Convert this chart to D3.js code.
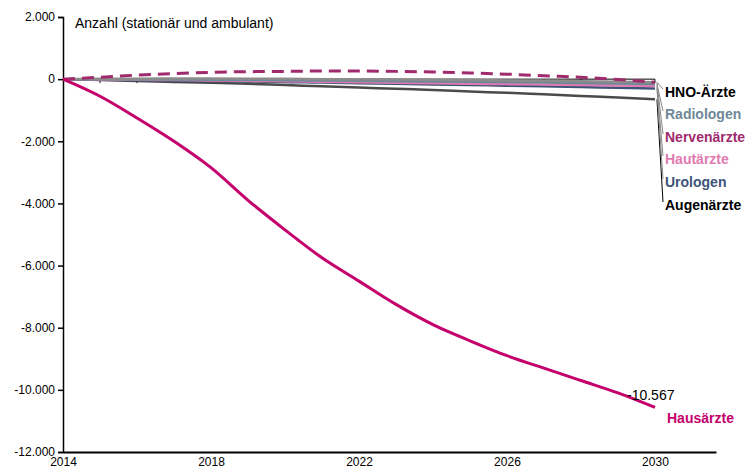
<!DOCTYPE html>
<html>
<head>
<meta charset="utf-8">
<script src="https://cdn.jsdelivr.net/npm/d3@7"></script>
<style>
  body { margin: 0; background: #fff; }
  #graf { width: 745px; height: 470px; }
  text { font-family: 'Liberation Sans', Arial, sans-serif; }
</style>
</head>
<body>
<div id="graf"></div>
<script>
// I. Datos
jahre = d3.range(2014, 2031)
yTicks = [2000, 0, -2000, -4000, -6000, -8000, -10000, -12000]
xLabels = [2014, 2018, 2022, 2026, 2030]

hausaerzte  = [0, -550, -1250, -2000, -2850, -3900, -4850, -5750, -6500, -7250, -7900, -8420, -8900, -9300, -9700, -10100, -10567]
nerven      = [0, 60, 130, 180, 220, 240, 250, 260, 260, 250, 230, 200, 160, 110, 60, -10, -100]
hno         = [0, 10, 15, 20, 20, 15, 10, 0, -5, -10, -20, -30, -40, -55, -70, -85, -100]
radiologen  = [0, -5, -10, -15, -20, -25, -35, -45, -55, -65, -75, -85, -95, -110, -125, -140, -160]
hautaerzte  = [0, -10, -20, -30, -40, -55, -70, -85, -100, -115, -130, -145, -160, -175, -190, -205, -220]
urologen    = [0, -15, -30, -45, -60, -75, -95, -110, -130, -150, -170, -190, -210, -230, -255, -275, -300]
augenaerzte = [0, -30, -60, -90, -120, -150, -190, -230, -270, -310, -350, -400, -440, -490, -540, -590, -650]

serien = [
  { name: 'Augenärzte', werte: augenaerzte, farbe: '#4a4a4a', breite: 2.5, dash: null, labelY: 210, labelFarbe: '#000' },
  { name: 'Urologen', werte: urologen, farbe: '#3c5479', breite: 2.5, dash: null, labelY: 187, labelFarbe: '#3c5479' },
  { name: 'Hautärzte', werte: hautaerzte, farbe: '#e07ab0', breite: 2.5, dash: null, labelY: 164, labelFarbe: '#e07ab0' },
  { name: 'Radiologen', werte: radiologen, farbe: '#6f8898', breite: 2.5, dash: null, labelY: 119, labelFarbe: '#6f8898' },
  { name: 'HNO-Ärzte', werte: hno, farbe: '#8c8c8c', breite: 2.5, dash: null, labelY: 97, labelFarbe: '#000' },
  { name: 'Nervenärzte', werte: nerven, farbe: '#a02a6e', breite: 3, dash: '12,7', labelY: 142, labelFarbe: '#a02a6e' },
  { name: 'Hausärzte', werte: hausaerzte, farbe: '#c4006c', breite: 3, dash: null, labelY: null, labelFarbe: '#c4006c' }
]

// II. Configuración
svg = d3.select('#graf').append('svg')
        .attr('width', 745)
        .attr('height', 470)

x = d3.scaleLinear().domain([2014, 2031.65]).range([63, 716])
y = d3.scaleLinear().domain([-12000, 2000]).range([452, 17])

fmt = d => d3.format(',')(d).replace(/,/g, '.').replace('−', '-')

// eje Y
yAxis = d3.axisLeft(y).tickValues(yTicks).tickSize(5).tickFormat(fmt)
gy = svg.append('g')
   .attr('transform', `translate(${x(2014)},0)`)
   .call(yAxis)
gy.select('.domain').attr('stroke', '#000').attr('stroke-width', 1.5)
gy.selectAll('.tick line').attr('stroke', '#000').attr('stroke-width', 1.5)
gy.selectAll('text').attr('font-size', '12px').attr('fill', '#000')
   .style('font-family', "'Liberation Sans', Arial, sans-serif")

// linea de 0 con marcas por año
svg.append('line')
   .attr('x1', x(2014)).attr('x2', x(2030))
   .attr('y1', y(0)).attr('y2', y(0))
   .attr('stroke', '#000').attr('stroke-width', 1)
svg.selectAll('.jahrTick').data(jahre.slice(1)).enter()
   .append('line')
   .attr('x1', d => x(d)).attr('x2', d => x(d))
   .attr('y1', y(0)).attr('y2', y(0) + 4)
   .attr('stroke', '#000').attr('stroke-width', 1)

// eje X abajo
xAxis = d3.axisBottom(x).tickValues(xLabels).tickSize(0).tickFormat(d3.format('d'))
gx = svg.append('g')
   .attr('transform', `translate(0,${y(-12000)})`)
   .call(xAxis)
gx.select('.domain').attr('stroke', '#000').attr('stroke-width', 2)
gx.selectAll('text').attr('font-size', '12px').attr('fill', '#000').attr('dy', '0.95em')
   .style('font-family', "'Liberation Sans', Arial, sans-serif")

// titulo
svg.append('text')
   .attr('x', 75).attr('y', 28)
   .attr('font-size', '14px')
   .text('Anzahl (stationär und ambulant)')

// lineas
line = d3.line()
   .x((d, i) => x(jahre[i]))
   .y(d => y(d))
   .curve(d3.curveMonotoneX)

serien.forEach(s => {
  svg.append('path')
     .datum(s.werte)
     .attr('d', line)
     .attr('fill', 'none')
     .attr('stroke', s.farbe)
     .attr('stroke-width', s.breite)
     .attr('stroke-dasharray', s.dash)
})

// lineas guía y etiquetas
serien.filter(s => s.labelY).forEach(s => {
  svg.append('line')
     .attr('x1', x(2030) + 2).attr('y1', y(s.werte[s.werte.length - 1]))
     .attr('x2', 663).attr('y2', s.labelY - 8)
     .attr('stroke', s.name == 'Augenärzte' ? '#000' : '#888')
     .attr('stroke-width', 1)
  svg.append('text')
     .attr('x', 665).attr('y', s.labelY)
     .attr('font-size', '14px')
     .attr('font-weight', 'bold')
     .attr('fill', s.labelFarbe)
     .text(s.name)
})

haus = serien.find(s => s.name == 'Hausärzte')
svg.append('text')
   .attr('x', 627).attr('y', 400)
   .attr('font-size', '14px')
   .text(fmt(hausaerzte[hausaerzte.length - 1]))
svg.append('text')
   .attr('x', 667).attr('y', 423)
   .attr('font-size', '14px')
   .attr('font-weight', 'bold')
   .attr('fill', haus.labelFarbe)
   .text(haus.name)
</script>
</body>
</html>
